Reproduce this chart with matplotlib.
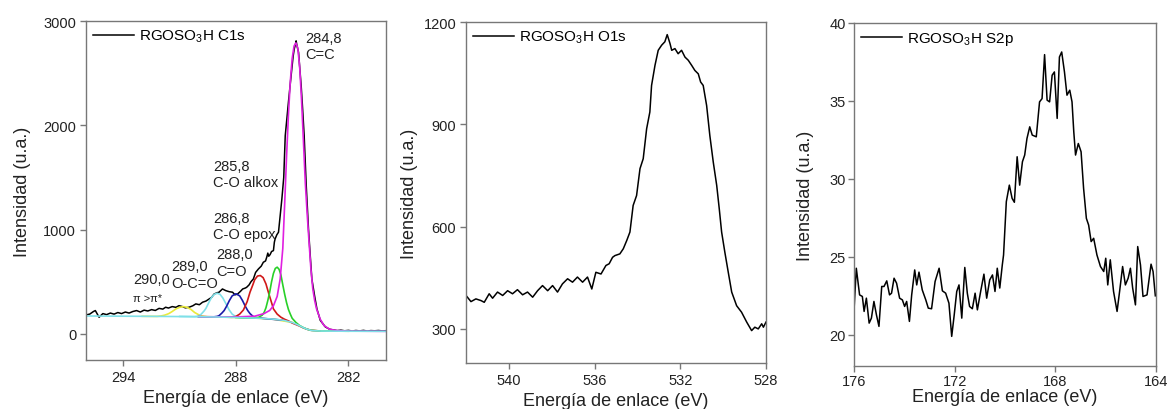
import matplotlib
matplotlib.use("Agg")
import matplotlib.pyplot as plt

plt.rcParams['font.family'] = ['Liberation Sans', 'DejaVu Sans']
plt.rcParams['mathtext.fontset'] = 'custom'
plt.rcParams['mathtext.rm'] = 'Liberation Sans'
plt.rcParams['mathtext.it'] = 'Liberation Sans:italic'

# --- C1s spectrum (binding energy eV, intensity) ---
c1s_x = [296.0, 295.8, 295.6, 295.5, 295.3, 295.1, 294.9, 294.7, 294.5, 294.3, 294.1,
         293.9, 293.7, 293.5, 293.3, 293.1, 292.9, 292.7, 292.5, 292.3, 292.1, 291.9,
         291.75, 291.6, 291.4, 291.2, 291.04, 290.85, 290.7, 290.5, 290.3, 290.14, 289.95,
         289.78, 289.6, 289.43, 289.3, 289.16, 289.0, 288.9, 288.72, 288.54, 288.36, 288.18,
         288.05, 287.91, 287.75, 287.64, 287.5, 287.43, 287.3, 287.2, 287.07, 286.95, 286.8,
         286.65, 286.54, 286.42, 286.35, 286.3, 286.25, 286.18, 286.1, 286.0, 285.95, 285.91,
         285.82, 285.73, 285.64, 285.55, 285.45, 285.37, 285.2, 285.1, 285.02, 284.95, 284.89,
         284.82, 284.79, 284.74, 284.66, 284.6, 284.52, 284.44, 284.36, 284.3, 284.25, 284.13,
         284.04, 283.95, 283.8, 283.68, 283.5, 283.23, 283.0, 282.8, 282.6, 282.4, 282.2,
         282.0, 281.8, 281.6, 281.4, 281.2, 281.0, 280.8, 280.6, 280.4, 280.2, 280.0]
c1s_y = [182, 190, 215, 224, 160, 195, 185, 200, 190, 205, 195,
         210, 200, 215, 224, 210, 228, 220, 233, 225, 245, 238,
         256, 248, 262, 255, 271, 262, 250, 256, 270, 288, 280,
         304, 315, 335, 350, 383, 395, 400, 431, 415, 405, 400,
         375, 383, 410, 431, 440, 447, 470, 500, 527, 590, 623,
         650, 687, 700, 740, 775, 745, 760, 790, 799, 880, 911,
         950, 975, 1134, 1294, 1500, 1900, 2221, 2400, 2540, 2660, 2732,
         2780, 2810, 2760, 2700, 2560, 2380, 2150, 1900, 1640, 1421, 1006,
         760, 527, 360, 240, 130, 67, 45, 38, 32, 36, 30,
         34, 28, 33, 29, 34, 28, 32, 30, 33, 29, 31]

# fitted components (peak + background)
bg_x = [296, 294, 292, 290, 289, 288, 287, 286.5, 286, 285.5, 285, 284.8, 284.6, 284.4,
        284.2, 284.0, 283.8, 283.5, 283, 282, 280]
bg_y = [172, 170, 168, 165, 162, 158, 152, 148, 142, 132, 110, 95, 78, 60,
        45, 35, 30, 28, 27, 26, 25]

cc_x = [290.0, 289.0, 288.0, 287.0, 286.5, 286.2, 286.0, 285.8, 285.64, 285.5, 285.4, 285.3,
        285.2, 285.1, 285.0, 284.9, 284.8, 284.7, 284.6, 284.5, 284.4, 284.3, 284.2, 284.1,
        284.0, 283.9, 283.8, 283.7, 283.5, 283.3, 283.0, 282.6, 282.0, 280.0]
cc_y = [166, 164, 163, 170, 195, 225, 270, 360, 527, 820, 1250, 1700,
        2100, 2420, 2640, 2760, 2790, 2740, 2560, 2240, 1850, 1450, 1150, 880,
        620, 430, 320, 240, 140, 80, 45, 32, 27, 25]

alkox_x = [288.0, 287.0, 286.8, 286.6, 286.5, 286.4, 286.3, 286.2, 286.1, 286.0, 285.9, 285.8,
           285.7, 285.6, 285.5, 285.4, 285.3, 285.2, 285.1, 285.0, 284.8, 284.6, 284.4, 284.2,
           284.0, 283.5, 282.0]
alkox_y = [158, 153, 158, 180, 205, 250, 320, 400, 500, 580, 628, 640,
           620, 565, 470, 380, 300, 235, 190, 150, 110, 80, 60, 45,
           35, 28, 26]

epox_x = [289.0, 288.2, 288.0, 287.8, 287.6, 287.4, 287.25, 287.1, 287.0, 286.85, 286.7, 286.55,
          286.4, 286.27, 286.1, 286.0, 285.8, 285.6, 285.4, 285.2, 285.0, 284.8, 284.6, 284.4,
          284.2, 284.0, 283.5]
epox_y = [162, 160, 168, 190, 230, 310, 400, 470, 520, 555, 560, 540,
          480, 400, 300, 240, 190, 160, 140, 125, 105, 90, 75, 58,
          45, 35, 28]

co_x = [290.0, 289.2, 289.0, 288.9, 288.75, 288.63, 288.5, 288.35, 288.2, 288.0, 287.8, 287.65,
        287.5, 287.37, 287.25, 287.1, 287.0, 286.5, 286.0, 285.5]
co_y = [165, 163, 168, 175, 200, 224, 265, 320, 365, 385, 365, 320,
        265, 224, 195, 170, 158, 148, 140, 132]

occo_x = [291.0, 290.2, 290.0, 289.85, 289.7, 289.6, 289.45, 289.3, 289.15, 289.0, 288.85, 288.7,
          288.55, 288.36, 288.2, 288.0, 287.8, 287.0]
occo_y = [168, 166, 170, 190, 220, 245, 300, 350, 380, 390, 380, 345,
          295, 230, 190, 165, 156, 152]

pi_x = [293.0, 292.2, 292.0, 291.8, 291.58, 291.4, 291.2, 291.0, 290.8, 290.6, 290.4, 290.2,
        290.0, 289.8, 289.5, 289.0, 288.0, 287.0, 286.0, 285.0]
pi_y = [169, 168, 172, 180, 195, 215, 240, 255, 262, 255, 235, 205,
        185, 172, 165, 163, 158, 152, 141, 110]

# --- O1s spectrum ---
o1s_x = [542.0, 541.77, 541.54, 541.3, 541.15, 540.92, 540.76, 540.53, 540.29, 540.06, 539.83,
         539.6, 539.36, 539.13, 538.89, 538.66, 538.43, 538.19, 537.96, 537.73, 537.5, 537.26,
         537.03, 536.8, 536.56, 536.33, 536.13, 535.94, 535.7, 535.47, 535.32, 535.16, 535.05,
         534.82, 534.66, 534.5, 534.35, 534.2, 534.04, 533.88, 533.73, 533.57, 533.42, 533.34,
         533.18, 533.03, 532.87, 532.72, 532.61, 532.48, 532.4, 532.25, 532.1, 531.94, 531.78,
         531.63, 531.47, 531.32, 531.16, 531.05, 530.93, 530.77, 530.62, 530.46, 530.3, 530.18,
         530.07, 529.92, 529.76, 529.6, 529.37, 529.14, 528.9, 528.67, 528.52, 528.36, 528.2,
         528.12, 528.0]
o1s_y = [398, 380, 388, 383, 378, 403, 390, 408, 398, 412, 403,
         415, 400, 408, 393, 412, 427, 412, 427, 408, 432, 447,
         437, 452, 437, 452, 417, 466, 461, 486, 491, 510, 515,
         520, 535, 559, 584, 662, 691, 770, 799, 887, 936, 1014,
         1073, 1117, 1132, 1142, 1163, 1137, 1117, 1122, 1107, 1117, 1097,
         1088, 1073, 1058, 1048, 1024, 1014, 955, 867, 789, 721, 652,
         584, 525, 466, 408, 368, 349, 320, 295, 305, 300, 315,
         305, 320]

# --- S2p spectrum ---
s2p_x = [176.0, 175.91, 175.78, 175.67, 175.6, 175.51, 175.4, 175.31, 175.21, 175.11, 175.01,
         174.9, 174.81, 174.7, 174.59, 174.51, 174.41, 174.31, 174.19, 174.08, 173.99, 173.91,
         173.8, 173.71, 173.59, 173.51, 173.42, 173.29, 173.15, 173.05, 172.92, 172.78, 172.62,
         172.49, 172.36, 172.23, 172.12, 172.02, 171.92, 171.83, 171.72, 171.6, 171.5, 171.41,
         171.3, 171.19, 171.1, 170.97, 170.84, 170.73, 170.61, 170.5, 170.4, 170.31, 170.21,
         170.11, 170.06, 169.95, 169.83, 169.72, 169.63, 169.52, 169.42, 169.31, 169.22, 169.13,
         169.02, 168.92, 168.76, 168.63, 168.53, 168.43, 168.33, 168.23, 168.13, 168.04, 167.93,
         167.84, 167.75, 167.64, 167.54, 167.43, 167.34, 167.27, 167.2, 167.09, 166.98, 166.88,
         166.77, 166.68, 166.58, 166.48, 166.35, 166.21, 166.08, 166.0, 165.92, 165.82, 165.69,
         165.55, 165.45, 165.33, 165.22, 165.11, 165.02, 164.93, 164.82, 164.73, 164.62, 164.52,
         164.36, 164.2, 164.12, 164.03]
s2p_y = [21.6, 24.27, 22.56, 22.46, 21.5, 22.35, 20.75, 21.07, 22.14, 21.28, 20.54,
         23.1, 23.1, 23.46, 22.56, 22.67, 23.63, 23.31, 22.35, 22.24, 21.82, 22.14,
         20.86, 22.56, 24.16, 23.2, 24.02, 22.88, 22.24, 21.71, 21.67, 23.42, 24.27,
         22.82, 22.67, 22.03, 19.9, 21.28, 22.78, 23.2, 21.07, 24.32, 22.67, 21.82,
         21.67, 22.67, 21.6, 22.78, 23.89, 22.35, 23.52, 23.84, 22.78, 24.27, 23.0,
         24.48, 25.12, 28.54, 29.6, 28.75, 28.5, 31.42, 29.6, 31.1, 31.53, 32.59,
         33.34, 32.81, 32.7, 34.94, 35.15, 37.97, 35.05, 34.94, 36.65, 36.86, 33.88,
         37.82, 38.14, 36.86, 35.37, 35.69, 34.94, 33.02, 31.53, 32.27, 31.74, 29.39,
         27.47, 27.04, 25.98, 26.19, 25.12, 24.38, 24.06, 24.91, 23.2, 24.81, 22.78,
         21.5, 22.78, 24.38, 23.2, 23.63, 24.27, 22.99, 21.92, 25.66, 24.48, 22.46,
         22.56, 24.53, 24.06, 22.5]

fig = plt.figure(figsize=(11.68, 4.10), dpi=100)
ax1 = fig.add_axes([0.0736, 0.1195, 0.2568, 0.8268])
ax2 = fig.add_axes([0.3990, 0.1122, 0.2568, 0.8317])
ax3 = fig.add_axes([0.7312, 0.1049, 0.2586, 0.8366])


def style(ax, xlim, ylim, xticks, yticks, xpad=4, ypad=6, tpad=3):
    ax.set_xlim(*xlim)
    ax.set_ylim(*ylim)
    ax.set_xticks(xticks)
    ax.set_yticks(yticks)
    for s in ax.spines.values():
        s.set_color('#777777')
        s.set_linewidth(1.0)
    ax.tick_params(direction='out', length=4, width=1, color='#777777',
                   labelsize=10.5, labelcolor='#222222', pad=tpad)
    ax.set_xlabel('Energía de enlace (eV)', fontsize=13, color='#222222', labelpad=xpad)
    ax.set_ylabel('Intensidad (u.a.)', fontsize=13, color='#222222', labelpad=ypad)
    ax.legend(loc='upper left', frameon=False, fontsize=11, handlelength=2.7,
              handletextpad=0.3, borderaxespad=0.15, borderpad=0.3)


# C1s panel
ax1.plot(c1s_x, c1s_y, color='black', lw=1.1, label='RGOSO$_3$H C1s')
ax1.plot(pi_x, pi_y, color='#eaea3a', lw=1.2)
ax1.plot(occo_x, occo_y, color='#7fe0e8', lw=1.2)
ax1.plot(co_x, co_y, color='#1a1aa8', lw=1.2)
ax1.plot(epox_x, epox_y, color='#d01818', lw=1.2)
ax1.plot(alkox_x, alkox_y, color='#28d028', lw=1.2)
ax1.plot(cc_x, cc_y, color='#e020e0', lw=1.2)
ax1.plot(bg_x, bg_y, color='#7fe0e8', lw=1.2)
style(ax1, (296, 280), (-250, 3000), [294, 288, 282], [0, 1000, 2000, 3000], ypad=9)

ann = dict(fontsize=10.5, color='#222222', va='top', ha='left', linespacing=1.2)
ax1.text(284.3, 2905, '284,8\nC=C', **ann)
ax1.text(289.2, 1680, '285,8\nC-O alkox', **ann)
ax1.text(289.2, 1180, '286,8\nC-O epox', **ann)
ax1.text(289.07, 830, '288,0\nC=O', **ann)
ax1.text(291.45, 715, '289,0\nO-C=O', **ann)
ax1.text(293.5, 595, '290,0', **ann)
ax1.text(293.5, 390, r'π >π*', fontsize=8, color='#222222', va='top', ha='left')

# O1s panel
ax2.plot(o1s_x, o1s_y, color='black', lw=1.1, label='RGOSO$_3$H O1s')
style(ax2, (542, 528), (200, 1200), [540, 536, 532, 528], [300, 600, 900, 1200], ypad=4)

# S2p panel
ax3.plot(s2p_x, s2p_y, color='black', lw=1.1, label='RGOSO$_3$H S2p')
style(ax3, (176, 164), (18, 40), [176, 172, 168, 164], [20, 25, 30, 35, 40],
      xpad=0, ypad=11, tpad=2)

fig.savefig('out.png', dpi=100)
